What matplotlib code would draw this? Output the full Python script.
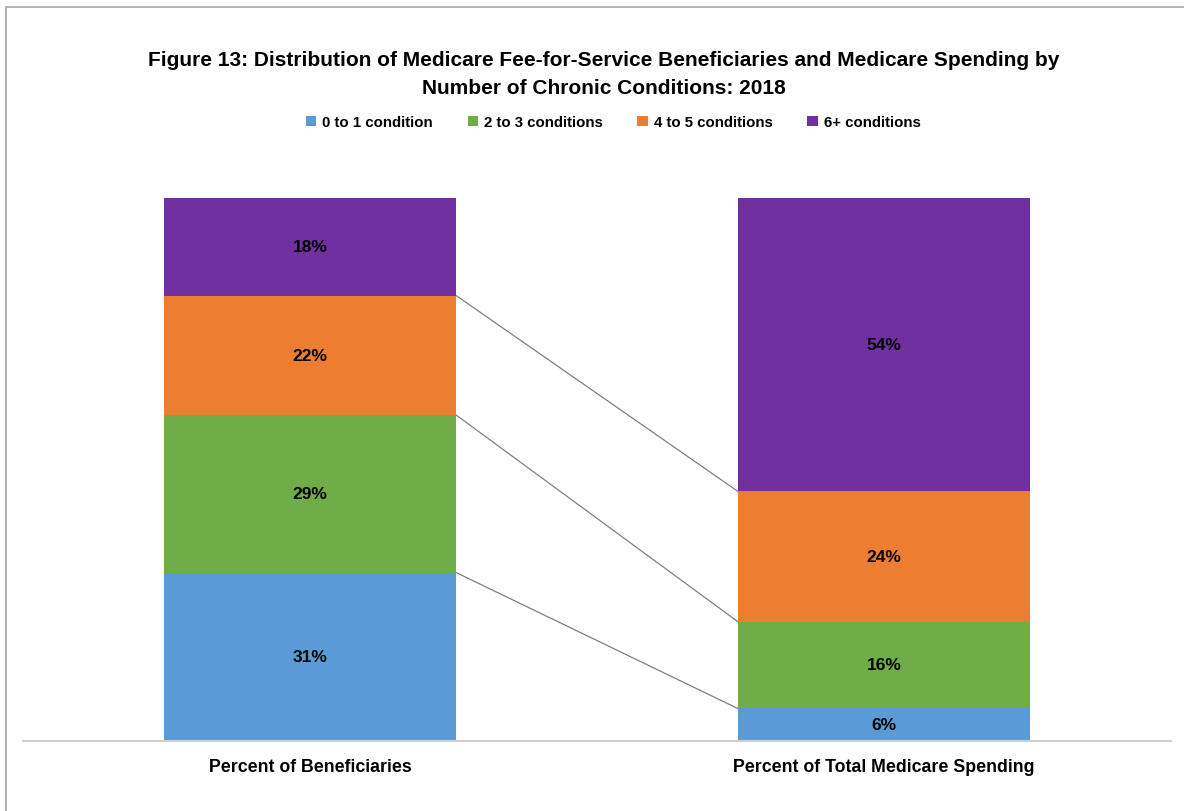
import numpy as np
import matplotlib.pyplot as plt
from matplotlib.patches import Rectangle

# data
categories = ["Percent of Beneficiaries", "Percent of Total Medicare Spending"]
series = ["0 to 1 condition", "2 to 3 conditions", "4 to 5 conditions", "6+ conditions"]
beneficiaries = [31, 29, 22, 18]
spending = [6, 16, 24, 54]
colors = ["#5B9BD5", "#70AD47", "#ED7D31", "#7030A0"]

title = ("Figure 13: Distribution of Medicare Fee-for-Service Beneficiaries and Medicare Spending by\n"
         "Number of Chronic Conditions: 2018")

FONT = ["Liberation Sans", "DejaVu Sans"]
plt.rcParams['font.family'] = FONT

values = np.array([beneficiaries, spending], dtype=float).T  # series x category
x = np.arange(len(categories))
width = 0.51

fig = plt.figure(figsize=(11.84, 8.12), dpi=100)
ax = fig.add_axes([23 / 1184, 1 - 742 / 812, 1148 / 1184, 543 / 812])

bottom = np.zeros(len(categories))
handles = []
for i, name in enumerate(series):
    b = ax.bar(x, values[i], width, bottom=bottom, color=colors[i], label=name, zorder=2)
    handles.append(b)
    for xi, v, b0 in zip(x, values[i], bottom):
        ax.text(xi, b0 + v / 2, f"{v:.0f}%", ha='center', va='center',
                fontsize=12.5, fontweight='bold', color='black', zorder=3)
    bottom = bottom + values[i]
    # series lines between the bars
    if i < len(series) - 1:
        ax.plot([x[0] + width / 2, x[1] - width / 2], [bottom[0], bottom[1]],
                color='#7f7f7f', lw=0.9, zorder=1)

ax.set_xlim(-0.5, 1.5)
ax.set_ylim(0, 100)
ax.set_yticks([])
ax.set_xticks(x)
ax.set_xticklabels(categories, fontsize=12.8, fontweight='bold')
ax.tick_params(axis='x', length=0, pad=12)
for s in ['top', 'right', 'left']:
    ax.spines[s].set_visible(False)
ax.spines['bottom'].set_color('#d0d0d0')
ax.spines['bottom'].set_linewidth(1.5)

fig.text(0.51, 1 - 74.5 / 812, title, ha='center', va='center', fontsize=15,
         fontweight='bold', linespacing=1.55)

fig.legend(handles=handles, labels=series, loc='center', ncol=4,
           bbox_to_anchor=(0.518, 1 - 123 / 812), frameon=False,
           prop={'size': 10.8, 'weight': 'bold'}, handlelength=0.7, handleheight=0.7,
           handletextpad=0.4, columnspacing=2.3)

# chart border
fig.patches.append(Rectangle((5.5 / 1184, -0.01), 1.1, 1 - 7.5 / 812 + 0.01,
                             transform=fig.transFigure, fill=False,
                             edgecolor='#a6a6a6', lw=1.2))

fig.savefig("out.png", dpi=100)
